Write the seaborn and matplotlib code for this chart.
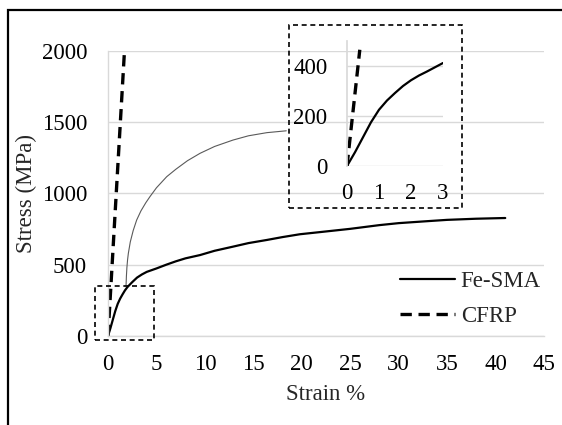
import matplotlib
matplotlib.use("Agg")

import matplotlib.pyplot as plt
import seaborn as sns
from matplotlib.patches import Rectangle

# Fe-SMA stress-strain curve (strain %, stress MPa)
fesma_strain = [0, 0.25, 0.5, 0.75, 1.0, 1.25, 1.5, 1.75, 2.0, 2.5, 3.0, 3.5, 4.0, 5.0, 6.0,
                7.0, 8.0, 9.5, 11, 12.9, 14.5, 16.4, 18, 19.8, 22, 25, 28, 30, 33, 35, 38, 41]
fesma_stress = [0, 55, 115, 175, 225, 262, 292, 320, 343, 378, 410, 432, 450, 474, 500,
                524, 545, 568, 598, 627, 652, 674, 694, 714, 730, 752, 778, 792, 806, 815, 823, 828]

# CFRP (linear elastic)
cfrp_strain = [0, 1.7]
cfrp_stress = [0, 2000]

# thin connector curve from the zoom box up to the inset
conn_strain = [1.86, 1.9, 1.95, 2.02, 2.1, 2.3, 2.6, 2.96, 3.4, 3.9, 4.33, 5.0, 6.06, 7.0,
               8.2, 9.5, 11.0, 12.9, 14.5, 16.4, 18.4]
conn_stress = [350, 420, 480, 535, 580, 660, 740, 814, 878, 935, 978, 1040, 1118, 1170,
               1230, 1282, 1330, 1375, 1405, 1427, 1440]

# inset data
inset_fesma_strain = [0, 0.25, 0.5, 0.75, 1.0, 1.25, 1.5, 1.75, 2.0, 2.25, 2.5, 2.75, 3.0]
inset_fesma_stress = [0, 55, 115, 175, 225, 262, 292, 320, 343, 362, 378, 395, 412]
inset_cfrp_strain = [0, 0.4]
inset_cfrp_stress = [0, 465]

main_xticks = [0, 5, 10, 15, 20, 25, 30, 35, 40, 45]
main_yticks = [0, 500, 1000, 1500, 2000]
inset_xticks = [0, 1, 2, 3]
inset_yticks = [0, 200, 400]

sns.set_theme(style="white")
plt.rcParams["font.family"] = ["Liberation Serif", "DejaVu Serif"]

W, H = 562, 425
fig = plt.figure(figsize=(W / 100, H / 100), dpi=100)

def px_box(x0, y0, x1, y1):
    return [x0 / W, 1 - y1 / H, (x1 - x0) / W, (y1 - y0) / H]

grid_c = "#d9d9d9"
fs = 16.5

ax = fig.add_axes(px_box(108, 51, 544, 336))
sns.lineplot(x=fesma_strain, y=fesma_stress, ax=ax, color="black", lw=1.6, label="Fe-SMA")
sns.lineplot(x=cfrp_strain, y=cfrp_stress, ax=ax, color="black", lw=2.4, label="CFRP")
ax.lines[-1].set_dashes((3.4, 2.0))
sns.lineplot(x=conn_strain, y=conn_stress, ax=ax, color="#5a5a5a", lw=0.8)

ax.set_xlim(0, 45)
ax.set_ylim(0, 2000)
ax.set_xticks(main_xticks)
ax.set_yticks(main_yticks)
ax.yaxis.grid(True, color=grid_c, lw=1)
ax.set_axisbelow(True)
for s in ["top", "right"]:
    ax.spines[s].set_visible(False)
for s in ["left", "bottom"]:
    ax.spines[s].set_color(grid_c)
    ax.spines[s].set_linewidth(1)
ax.tick_params(length=0, labelsize=fs, colors="black")
ax.tick_params(axis="x", pad=13)
ax.tick_params(axis="y", pad=15)
ax.set_xlabel("Strain %", fontsize=fs)
ax.set_ylabel("Stress (MPa)", fontsize=fs)
ax.xaxis.set_label_coords(0.5, -(384 - 336) / (336 - 51), transform=ax.transAxes)
ax.yaxis.set_label_coords(-(108 - 37) / (544 - 108), 0.5, transform=ax.transAxes)

leg = ax.legend(loc="center left", bbox_to_anchor=(400 / W, 1 - 299 / H),
                bbox_transform=fig.transFigure, frameon=False, fontsize=fs,
                handlelength=2.4, handletextpad=0.25, labelspacing=0.6,
                borderpad=0, borderaxespad=0)

# dashed zoom box in the main chart
ax.add_patch(Rectangle((-1.34, -28), 6.09, 379, fill=False, ec="black", lw=1.2,
                       ls=(0, (3, 2.2)), clip_on=False, zorder=5))

# inset
iax = fig.add_axes(px_box(347, 41, 443, 166))
sns.lineplot(x=inset_fesma_strain, y=inset_fesma_stress, ax=iax, color="black", lw=1.6)
sns.lineplot(x=inset_cfrp_strain, y=inset_cfrp_stress, ax=iax, color="black", lw=2.4)
iax.lines[-1].set_dashes((3.4, 2.0))
iax.set_xlim(0, 3)
iax.set_ylim(0, 500)
iax.set_xticks(inset_xticks)
iax.set_yticks(inset_yticks)
iax.yaxis.grid(True, color=grid_c, lw=1)
iax.set_axisbelow(True)
iax.patch.set_alpha(0)
for s in ["top", "right", "bottom"]:
    iax.spines[s].set_visible(False)
iax.spines["left"].set_color(grid_c)
iax.tick_params(length=0, labelsize=fs, colors="black")
iax.tick_params(axis="x", pad=12)
iax.tick_params(axis="y", pad=14)

# dashed box around inset
fig.patches.append(Rectangle((289 / W, 1 - 208.3 / H), (462.3 - 289) / W, (208.3 - 25) / H,
                             transform=fig.transFigure, fill=False, ec="black", lw=1.2,
                             ls=(0, (3, 2.2)), zorder=5))

# outer frame (only top/left edges fall inside the image)
fig.patches.append(Rectangle((8 / W, -0.1), 1.2, 1 - 10 / H + 0.1,
                             transform=fig.transFigure, fill=False, ec="black", lw=1.6))

plt.savefig("out.png", dpi=100)
plt.close()
